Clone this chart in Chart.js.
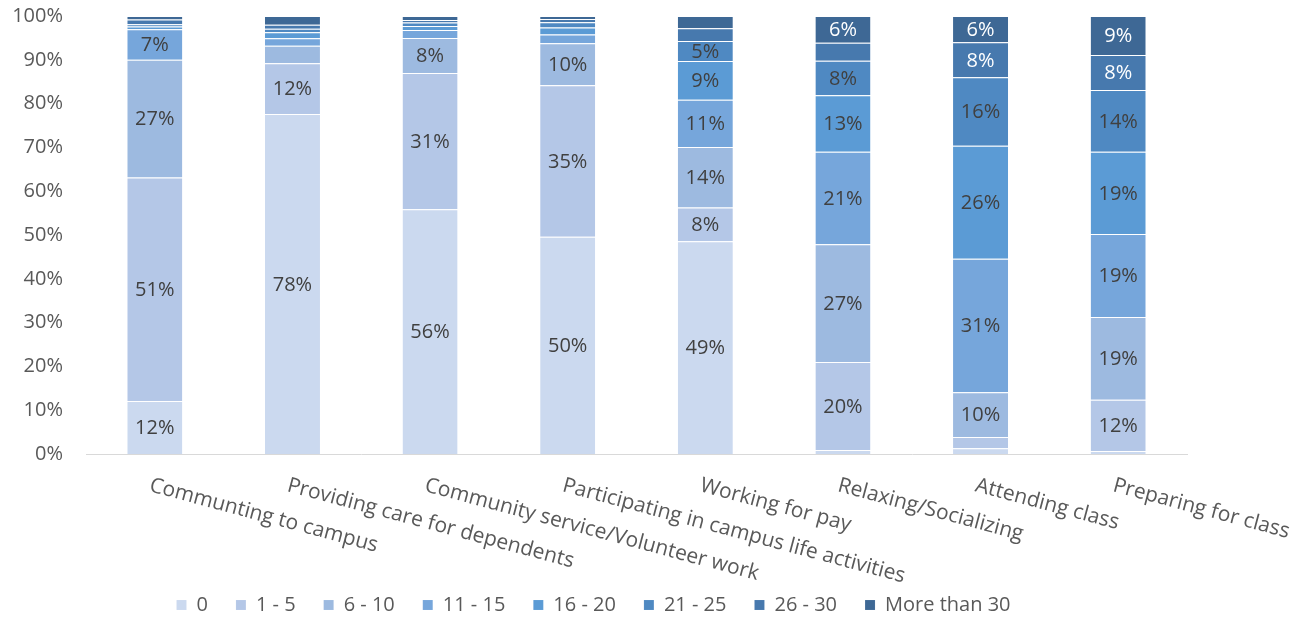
<!DOCTYPE html>
<html>
<head>
<meta charset="utf-8">
<script src="https://cdn.jsdelivr.net/npm/chart.js@4.4.1/dist/chart.umd.min.js"></script>
<style>
  html, body { margin:0; padding:0; background:#fff; }
  .chart-wrap { width:1303px; height:621px; position:relative; }
</style>
</head>
<body>
<div class="chart-wrap"><canvas id="hours"></canvas></div>
<script>
// hours per week spent on each activity, share of respondents (%)
const activities = [
  'Communting to campus',
  'Providing care for dependents',
  'Community service/Volunteer work',
  'Participating in campus life activities',
  'Working for pay',
  'Relaxing/Socializing',
  'Attending class',
  'Preparing for class'
];
const brackets = ['0', '1 - 5', '6 - 10', '11 - 15', '16 - 20', '21 - 25', '26 - 30', 'More than 30'];

const hoursZero    = [12.1, 77.6, 55.9, 49.6, 48.6,  0.9,  1.3,  0.7];
const hours1to5    = [51.0, 11.6, 31.1, 34.6,  7.7, 20.1,  2.6, 11.7];
const hours6to10   = [26.9,  4.0,  8.0,  9.6, 13.8, 26.9, 10.2, 18.9];
const hours11to15  = [ 7.0,  1.7,  1.8,  2.0, 10.8, 21.1, 30.5, 18.9];
const hours16to20  = [ 0.6,  1.4,  0.9,  1.6,  8.8, 12.9, 25.8, 18.8];
const hours21to25  = [ 0.5,  0.8,  0.8,  1.2,  4.6,  7.9, 15.6, 14.1];
const hours26to30  = [ 1.1,  0.9,  0.6,  0.7,  2.9,  4.1,  8.0,  8.0];
const hoursOver30  = [ 0.8,  2.0,  0.9,  0.7,  2.8,  6.1,  6.0,  8.9];

const yTicks = [0, 10, 20, 30, 40, 50, 60, 70, 80, 90, 100];

const series = [hoursZero, hours1to5, hours6to10, hours11to15, hours16to20, hours21to25, hours26to30, hoursOver30];
const blues = ['#cbd9ef', '#b4c7e7', '#9dbae0', '#76a6db', '#5b9bd5', '#4f89c2', '#4779ae', '#3e6895'];

const FONT = '"Open Sans", sans-serif';
Chart.defaults.font.family = FONT;
Chart.defaults.font.size = 20;
Chart.defaults.color = '#595959';

// percentage labels centred in each segment (hidden below 5%)
const segmentLabels = {
  id: 'segmentLabels',
  afterDatasetsDraw(chart){
    const ctx = chart.ctx;
    ctx.save();
    ctx.font = '20px ' + FONT;
    ctx.textAlign = 'center';
    ctx.textBaseline = 'middle';
    chart.data.datasets.forEach((ds, di) => {
      const meta = chart.getDatasetMeta(di);
      meta.data.forEach((bar, i) => {
        const v = Math.round(ds.data[i]);
        if (v < 5) return;
        ctx.fillStyle = di >= 6 ? '#ffffff' : '#404040';
        ctx.fillText(v + '%', bar.x, (bar.y + bar.base) / 2 + 1);
      });
    });
    ctx.restore();
  }
};

// category names slanted downwards from each tick
const slantedLabels = {
  id: 'slantedLabels',
  afterDraw(chart){
    const ctx = chart.ctx;
    const x = chart.scales.x;
    ctx.save();
    ctx.font = '21px ' + FONT;
    ctx.fillStyle = '#595959';
    ctx.textAlign = 'left';
    ctx.textBaseline = 'top';
    chart.data.labels.forEach((label, i) => {
      ctx.save();
      ctx.translate(x.getPixelForTick(i) - 2, x.top + 21);
      ctx.rotate(15 * Math.PI / 180);
      ctx.fillText(label, 0, 0);
      ctx.restore();
    });
    ctx.restore();
  }
};

new Chart(document.getElementById('hours'), {
  type: 'bar',
  data: {
    labels: activities,
    datasets: series.map((data, i) => ({
      label: brackets[i],
      data,
      backgroundColor: blues[i],
      borderColor: 'rgba(255,255,255,0.35)',
      borderWidth: { top: 1, bottom: 0, left: 0, right: 0 },
      borderSkipped: false,
      categoryPercentage: 1,
      barPercentage: 0.4
    }))
  },
  options: {
    responsive: true,
    maintainAspectRatio: false,
    animation: false,
    layout: { padding: { top: 16, right: 116, left: 0, bottom: -4 } },
    plugins: {
      legend: {
        position: 'bottom',
        labels: { boxWidth: 10, boxHeight: 10, padding: 28, color: '#595959', font: { size: 20 } }
      },
      tooltip: { enabled: false }
    },
    scales: {
      x: {
        stacked: true,
        grid: { display: true, drawOnChartArea: false, drawTicks: false },
        border: { display: true, color: '#d9d9d9', width: 1 },
        ticks: { display: false },
        afterFit(scale){ scale.height = 113; }
      },
      y: {
        stacked: true,
        min: 0,
        max: 100,
        afterBuildTicks(scale){ scale.ticks = yTicks.map(v => ({ value: v })); },
        grid: { display: false, drawTicks: false },
        border: { display: false },
        ticks: { padding: 23, color: '#595959', callback: v => v + '%' },
        afterFit(scale){
          scale.width = 86;
          scale.paddingTop = 0;
          scale.paddingBottom = 0;
        }
      }
    }
  },
  plugins: [segmentLabels, slantedLabels]
});
</script>
</body>
</html>
